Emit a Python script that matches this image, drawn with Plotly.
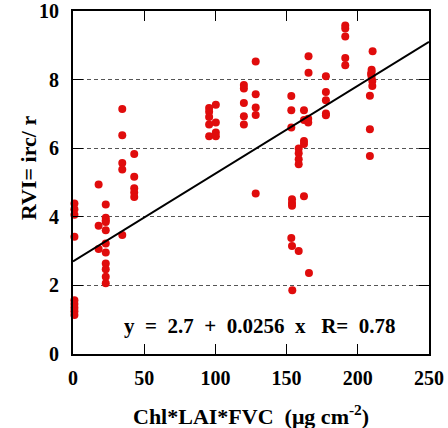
import plotly.graph_objects as go

# Data
x_vals = [1, 1, 1, 1, 1, 1, 1, 1, 1,
          18, 18, 18,
          23, 23, 23, 23, 23, 23, 23, 23, 23, 23, 23,
          34.6, 34.6, 34.6, 34.6, 34.6,
          43, 43, 43, 43, 43,
          95.6, 95.6, 95.6, 95.6, 95.6,
          100.3, 100.3, 100.3, 100.3,
          120, 120, 120, 120, 120,
          128.3, 128.3, 128.3, 128.3, 128.3,
          153.3, 153.3, 153.3, 153.8, 153.8, 153.8, 153.3, 153.8, 154,
          158.5, 158.5, 158.5, 158.5, 158.5,
          162.2, 162.2, 162.2, 162.2, 162.2,
          165.4, 165.4, 165.2, 165.2, 165.7,
          177.6, 177.6, 177.6, 177.6, 177.6,
          191.2, 191.2, 191.2, 191.2, 191.2,
          210.4, 209.7, 209.7, 209.3, 209.7, 210.2, 210.2, 208.5, 208.5, 208.5]
y_vals = [4.39, 4.22, 4.06, 3.42, 1.57, 1.46, 1.35, 1.25, 1.14,
          4.94, 3.74, 3.06,
          4.36, 3.97, 3.90, 3.85, 3.61, 3.22, 2.96, 2.64, 2.47, 2.25, 2.06,
          7.14, 6.38, 5.57, 5.38, 3.47,
          5.83, 5.17, 4.83, 4.71, 4.58,
          7.17, 7.06, 6.91, 6.69, 6.35,
          7.27, 6.75, 6.46, 6.35,
          7.84, 7.74, 7.32, 6.93, 6.69,
          8.53, 7.57, 7.19, 6.97, 4.68,
          7.52, 7.11, 6.60, 4.51, 4.40, 4.32, 3.38, 3.15, 1.86,
          5.99, 5.85, 5.68, 5.53, 3.00,
          7.11, 6.82, 6.21, 6.12, 4.60,
          8.68, 8.20, 6.86, 6.75, 2.36,
          8.10, 7.64, 7.40, 7.01, 6.96,
          9.58, 9.49, 9.26, 8.63, 8.42,
          8.83, 8.29, 8.22, 8.16, 8.08, 7.96, 7.81, 7.53, 6.55, 5.77]

intercept = 2.7
slope = 0.0256
r_value = 0.78
fit_x = [0, 250]
fit_y = [intercept + slope * v for v in fit_x]

x_ticks = [0, 50, 100, 150, 200, 250]
y_ticks = [0, 2, 4, 6, 8, 10]

FONT = "Liberation Serif"
SP = "\u00a0"

fig = go.Figure()
fig.add_trace(go.Scatter(x=x_vals, y=y_vals, mode="markers",
                         marker=dict(color="#e00c0c", size=8, line=dict(width=0)),
                         cliponaxis=False, showlegend=False))
fig.add_trace(go.Scatter(x=fit_x, y=fit_y, mode="lines",
                         line=dict(color="black", width=2), showlegend=False))

eq_text = (f"y{SP*2}={SP*2}{intercept}{SP*2}+{SP*2}{slope}{SP*2}x"
           f"{SP*3}R={SP*2}{r_value}")

fig.update_layout(
    width=448, height=428,
    margin=dict(l=73, r=19, t=11, b=74),
    plot_bgcolor="white", paper_bgcolor="white",
    font=dict(family=FONT, size=20, color="black"),
    xaxis=dict(range=[0, 250], tickvals=x_ticks, ticks="inside", ticklen=10,
               tickcolor="black", tickwidth=1, showline=True, linecolor="black",
               linewidth=2, mirror="ticks", showgrid=False, zeroline=False,
               automargin=False,
               tickfont=dict(family=FONT, size=20, weight="bold"),
               ticklabelstandoff=5),
    yaxis=dict(range=[0, 10], tickvals=y_ticks, ticks="inside", ticklen=10,
               tickcolor="black", tickwidth=1, showline=True, linecolor="black",
               linewidth=2, mirror="ticks", showgrid=True, gridcolor="#555555",
               griddash="4px,3px", gridwidth=1, zeroline=False,
               automargin=False,
               tickfont=dict(family=FONT, size=20, weight="bold"),
               ticklabelstandoff=8),
    annotations=[
        dict(x=(260 - 73) / 356 * 250, y=0.82, xref="x", yref="y", showarrow=False,
             text=eq_text,
             font=dict(family=FONT, size=21, weight="bold")),
        dict(x=(251 - 73) / 356, y=-0.178, xref="paper", yref="paper",
             showarrow=False, xanchor="center", yanchor="middle",
             text="Chl*LAI*FVC  (μg cm<sup>-2</sup>)",
             font=dict(family=FONT, size=22, weight="bold")),
        dict(x=(28 - 73) / 356, y=(354 - 168) / 343, xref="paper", yref="paper",
             showarrow=False, xanchor="center", yanchor="middle", textangle=-90,
             text="RVI= irc/ r",
             font=dict(family=FONT, size=22, weight="bold")),
    ],
)

fig.write_html("out.html")
